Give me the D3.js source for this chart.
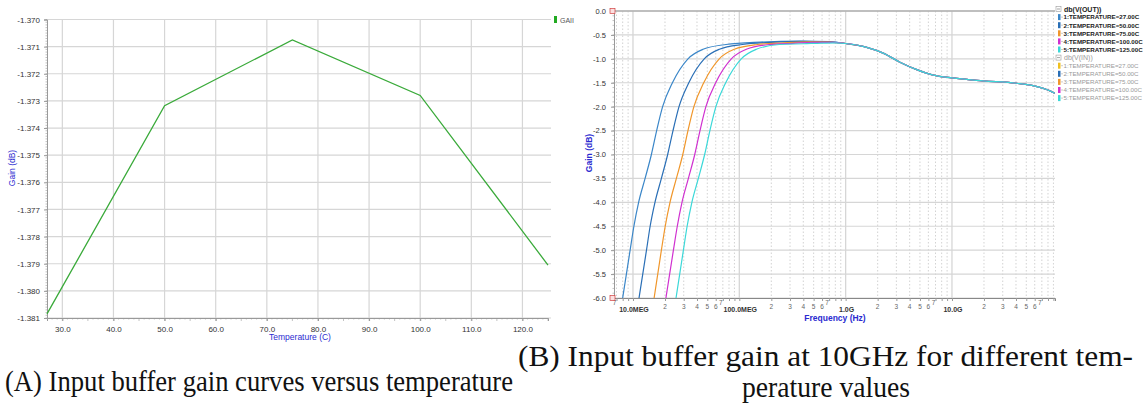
<!DOCTYPE html>
<html><head><meta charset="utf-8">
<script src="https://cdn.jsdelivr.net/npm/d3@7"></script>
<style>
html,body{margin:0;padding:0;background:#fff;}
svg{display:block;}
</style></head>
<body>
<svg id="c" width="1147" height="409"></svg>
<script>
// ---------------- DATA ----------------
// (A) gain vs temperature
const temps = [27, 50, 75, 100, 125];
const gainA = [-1.38085, -1.37318, -1.37075, -1.37280, -1.37905];
const xTicksA = [30, 40, 50, 60, 70, 80, 90, 100, 110, 120];
const yTicksA = [-1.370, -1.371, -1.372, -1.373, -1.374, -1.375, -1.376, -1.377, -1.378, -1.379, -1.380, -1.381];

// (B) gain vs frequency, one curve per temperature
const curveTemps = ["27.00C", "50.00C", "75.00C", "100.00C", "125.00C"];
const rollGain = [-6.0, -5.0, -4.5, -4.0, -3.5, -3.0, -2.5, -2.0, -1.5, -1.0, -0.8, -0.7];
const rollFreq27  = [8.0, 9.4, 10.2, 11.3, 13.0, 14.9, 16.7, 19.0, 23.5, 32.9, 45.6, 75];      // MHz
const rollFreq50  = [11.4, 13.4, 14.5, 16.1, 18.5, 21.2, 23.8, 27.1, 33.5, 46.8, 64.9, 107];
const rollFreq75  = [15.8, 18.5, 20.1, 22.3, 25.6, 29.4, 32.9, 37.4, 46.3, 64.8, 89.8, 148];
const rollFreq100 = [20.4, 24.0, 26.1, 28.9, 33.2, 38.1, 42.7, 48.5, 60.0, 84.1, 116.5, 192];
const rollFreq125 = [25.4, 29.8, 32.3, 35.8, 41.2, 47.2, 52.9, 60.2, 74.5, 104.3, 144.6, 238];
const plateauFreq27  = [157, 370, 700];   // MHz
const plateauFreq50  = [200, 400, 700];
const plateauFreq75  = [260, 450, 700];
const plateauFreq100 = [320, 500, 750];
const plateauFreq125 = [400, 600, 800];
const plateauGain27  = [-0.650, -0.630, -0.640];
const plateauGain50  = [-0.655, -0.635, -0.645];
const plateauGain75  = [-0.665, -0.645, -0.650];
const plateauGain100 = [-0.675, -0.655, -0.655];
const plateauGain125 = [-0.685, -0.670, -0.665];
const tailFreqGHz = [1.0, 1.58, 2.28, 3.24, 4.6, 6.68, 10, 19.6, 40.6, 57.8, 83.6, 93];
const tailGain    = [-0.68, -0.76, -0.885, -1.07, -1.22, -1.34, -1.40, -1.46, -1.51, -1.56, -1.67, -1.72];
const yTicksB = [0.0, -0.5, -1.0, -1.5, -2.0, -2.5, -3.0, -3.5, -4.0, -4.5, -5.0, -5.5, -6.0];
const majorFreqs = [1e7, 1e8, 1e9, 1e10];
const majorLabels = ["10.0MEG", "100.0MEG", "1.0G", "10.0G"];

const curveColors = ["#3a86c8", "#2a6fb6", "#f0962a", "#d030d0", "#3ad8d8"];
const legendInColors = ["#f0c020", "#2a6fb6", "#f0962a", "#d030d0", "#3ad8d8"];

// ---------------- DRAW ----------------
const svg = d3.select("#c");
const tickFont = "'Liberation Sans', Arial, sans-serif";
const gridCol = "#d6d6d6";
const axisCol = "#9a9a9a";
const blue = "#2b2bd0";

// ===== Chart A =====
{
  const x = d3.scaleLinear().domain([27, 125]).range([47, 548]);
  const y = d3.scaleLinear().domain([-1.381, -1.370]).range([318, 19.5]);
  const g = svg.append("g");
  g.selectAll(".hg").data(yTicksA).join("line")
    .attr("x1", x(27)).attr("x2", 551).attr("y1", d => y(d)).attr("y2", d => y(d))
    .attr("stroke", gridCol).attr("stroke-width", 1.2);
  g.selectAll(".vg").data(xTicksA).join("line")
    .attr("x1", d => x(d)).attr("x2", d => x(d)).attr("y1", y(-1.370)).attr("y2", y(-1.381))
    .attr("stroke", gridCol).attr("stroke-width", 1.2);
  const yAxis = d3.axisLeft(y).tickValues(yTicksA).tickSize(3)
    .tickFormat(d => d3.format(".3f")(d).replace("−", "-"));
  const ya = g.append("g").attr("transform", `translate(${x(27)},0)`).call(yAxis);
  ya.select(".domain").attr("stroke", axisCol);
  ya.selectAll(".tick line").attr("stroke", axisCol);
  ya.selectAll("text").attr("font-family", tickFont).attr("font-size", 8).attr("fill", "#333").attr("dx", -1);
  g.selectAll(".ym").data(d3.range(0, 111).map(i => -1.370 - i * 0.0001)).join("line")
    .attr("x1", x(27)).attr("x2", x(27) - 1.5).attr("y1", d => y(d)).attr("y2", d => y(d))
    .attr("stroke", axisCol).attr("stroke-width", 0.6);
  const xAxis = d3.axisBottom(x).tickValues(xTicksA).tickSize(3).tickFormat(d3.format(".1f"));
  const xa = g.append("g").attr("transform", `translate(0,${y(-1.381)})`).call(xAxis);
  xa.select(".domain").attr("stroke", axisCol);
  xa.selectAll(".tick line").attr("stroke", axisCol);
  xa.selectAll("text").attr("font-family", tickFont).attr("font-size", 8).attr("fill", "#333")
    .attr("y", 14).attr("dy", 0);
  g.selectAll(".xm").data(d3.range(28, 126)).join("line")
    .attr("x1", d => x(d)).attr("x2", d => x(d)).attr("y1", y(-1.381)).attr("y2", d => y(-1.381) + (d % 5 === 0 ? 3 : 1.5))
    .attr("stroke", axisCol).attr("stroke-width", 0.6);
  g.append("text").attr("x", 300).attr("y", 340).attr("text-anchor", "middle")
    .attr("font-family", tickFont).attr("font-size", 8.5).attr("fill", blue).text("Temperature (C)");
  g.append("text").attr("transform", "translate(15,168) rotate(-90)").attr("text-anchor", "middle")
    .attr("font-family", tickFont).attr("font-size", 8.5).attr("fill", blue).text("Gain (dB)");
  const line = d3.line().x((d, i) => x(temps[i])).y(d => y(d));
  g.append("path").datum(gainA).attr("d", line).attr("fill", "none")
    .attr("stroke", "#3aaa3a").attr("stroke-width", 1.3);
  g.append("rect").attr("x", 554).attr("y", 16).attr("width", 3).attr("height", 7).attr("fill", "#22aa22");
  g.append("text").attr("x", 560).attr("y", 22.5).attr("font-family", tickFont).attr("font-size", 7)
    .attr("fill", "#555").text("GAII");
}

// ===== Chart B =====
{
  const fmin = 6.63e6, fmax = 9.31e10;
  const x = d3.scaleLog().domain([fmin, fmax]).range([614, 1055]);
  const y = d3.scaleLinear().domain([-6, 0]).range([298, 11]);
  const g = svg.append("g");
  const minorF = [];
  for (let e = 6; e <= 10; e++) for (let m = 2; m <= 9; m++) {
    const f = m * Math.pow(10, e);
    if (f > fmin && f < fmax) minorF.push(f);
  }
  g.selectAll(".mg").data(minorF).join("line")
    .attr("x1", d => x(d)).attr("x2", d => x(d)).attr("y1", y(0)).attr("y2", y(-6))
    .attr("stroke", "#c8c8c8").attr("stroke-width", 0.8).attr("stroke-dasharray", "1.5,2");
  g.selectAll(".vg").data(majorFreqs).join("line")
    .attr("x1", d => x(d)).attr("x2", d => x(d)).attr("y1", y(0)).attr("y2", y(-6))
    .attr("stroke", gridCol).attr("stroke-width", 1.3);
  g.selectAll(".hg").data(yTicksB).join("line")
    .attr("x1", x(fmin)).attr("x2", x(fmax)).attr("y1", d => y(d)).attr("y2", d => y(d))
    .attr("stroke", gridCol).attr("stroke-width", 1.2);
  g.append("line").attr("x1", x(fmin)).attr("x2", x(fmax)).attr("y1", y(0)).attr("y2", y(0))
    .attr("stroke", "#b0b0b0").attr("stroke-width", 1.5);
  const yAxis = d3.axisLeft(y).tickValues(yTicksB).tickSize(3)
    .tickFormat(d => d3.format(".1f")(d).replace("−", "-"));
  const ya = g.append("g").attr("transform", `translate(${x(fmin)},0)`).call(yAxis);
  ya.select(".domain").attr("stroke", axisCol);
  ya.selectAll(".tick line").attr("stroke", axisCol);
  ya.selectAll("text").attr("font-family", tickFont).attr("font-size", 7.5).attr("fill", "#333").attr("dx", -2);
  g.selectAll(".ym").data(d3.range(0, 61).map(i => -i * 0.1)).join("line")
    .attr("x1", x(fmin)).attr("x2", x(fmin) - 1.5).attr("y1", d => y(d)).attr("y2", d => y(d))
    .attr("stroke", axisCol).attr("stroke-width", 0.6);
  const xAxis = d3.axisBottom(x).tickValues(majorFreqs.concat(minorF)).tickSize(3).tickFormat("");
  const xa = g.append("g").attr("transform", `translate(0,${y(-6)})`).call(xAxis);
  xa.select(".domain").attr("stroke", "#888");
  xa.selectAll(".tick line").attr("stroke", axisCol);
  g.selectAll(".mjl").data(majorFreqs).join("text")
    .attr("x", d => x(d) + 1).attr("y", 312).attr("text-anchor", "middle")
    .attr("font-family", tickFont).attr("font-size", 7).attr("font-weight", "bold").attr("fill", "#333")
    .text((d, i) => majorLabels[i]);
  const mant = d => Math.round(d / Math.pow(10, Math.floor(Math.log10(d) + 1e-9)));
  const minorLabelled = minorF.filter(f => mant(f) <= 7);
  g.selectAll(".mnl").data(minorLabelled).join("text")
    .attr("x", d => x(d) - (mant(d) === 7 ? 2 : 0)).attr("y", d => mant(d) === 7 ? 305 : 308.5).attr("text-anchor", "middle")
    .attr("font-family", tickFont).attr("font-size", 6.5).attr("fill", "#666")
    .text(d => mant(d));
  [0, -6].forEach(v => {
    g.append("rect").attr("x", x(fmin) - 4).attr("y", y(v) - 2.5).attr("width", 5).attr("height", 5)
      .attr("fill", "#fbe0e0").attr("stroke", "#d04040").attr("stroke-width", 0.7);
  });
  g.append("text").attr("x", 835).attr("y", 321).attr("text-anchor", "middle")
    .attr("font-family", tickFont).attr("font-size", 8.5).attr("font-weight", "bold").attr("fill", blue).text("Frequency (Hz)");
  g.append("text").attr("transform", "translate(592,153) rotate(-90)").attr("text-anchor", "middle")
    .attr("font-family", tickFont).attr("font-size", 8.5).attr("font-weight", "bold").attr("fill", blue).text("Gain (dB)");
  const rolls = [rollFreq27, rollFreq50, rollFreq75, rollFreq100, rollFreq125];
  const pFs = [plateauFreq27, plateauFreq50, plateauFreq75, plateauFreq100, plateauFreq125];
  const pGs = [plateauGain27, plateauGain50, plateauGain75, plateauGain100, plateauGain125];
  const series = rolls.map((rf, k) => {
    const pts = rf.map((f, i) => [f * 1e6, rollGain[i]]);
    pFs[k].forEach((f, i) => pts.push([f * 1e6, pGs[k][i]]));
    tailFreqGHz.forEach((f, i) => pts.push([f * 1e9, tailGain[i]]));
    return pts;
  });
  svg.append("defs").append("clipPath").attr("id", "clipB").append("rect")
    .attr("x", x(fmin)).attr("y", y(0)).attr("width", x(fmax) - x(fmin)).attr("height", y(-6) - y(0));
  const line = d3.line().x(d => x(d[0])).y(d => y(d[1])).curve(d3.curveMonotoneX);
  g.append("g").attr("clip-path", "url(#clipB)").selectAll("path").data(series).join("path")
    .attr("d", line).attr("fill", "none").attr("stroke", (d, i) => curveColors[i]).attr("stroke-width", 1.2);
  // legend
  const lg = g.append("g").attr("font-family", tickFont).attr("font-size", 6.2);
  const rowY = i => 9 + i * 8.1;
  const groups = [["db(V(OUT))", curveColors, "#222"], ["db(V(IN))", legendInColors, "#9a9a9a"]];
  const fitText = (sel) => {
    const avail = 1144 - (+sel.attr("x"));
    const w = sel.node().getComputedTextLength();
    if (w > avail) sel.attr("textLength", avail).attr("lengthAdjust", "spacingAndGlyphs");
  };
  groups.forEach((grp, gi) => {
    const base = gi * 6;
    lg.append("rect").attr("x", 1056).attr("y", rowY(base) - 2.5).attr("width", 5).attr("height", 5)
      .attr("fill", "#fff").attr("stroke", "#999").attr("stroke-width", 0.6);
    lg.append("line").attr("x1", 1057).attr("x2", 1060).attr("y1", rowY(base)).attr("y2", rowY(base)).attr("stroke", "#666").attr("stroke-width", 0.6);
    lg.append("text").attr("x", 1064).attr("y", rowY(base) + 2.5).attr("font-size", 7).attr("fill", grp[2]).attr("font-weight", gi === 0 ? "bold" : "normal").text(grp[0]);
    curveTemps.forEach((t, i) => {
      const yy = rowY(base + 1 + i);
      lg.append("rect").attr("x", 1058).attr("y", yy - 3).attr("width", 2.5).attr("height", 6).attr("fill", grp[1][i]);
      lg.append("line").attr("x1", 1061).attr("x2", 1063).attr("y1", yy).attr("y2", yy).attr("stroke", "#aaa").attr("stroke-width", 0.6);
      const tx = lg.append("text").attr("x", 1063.5).attr("y", yy + 2.3).attr("fill", grp[2]).attr("font-weight", gi === 0 ? "bold" : "normal")
        .text(`${i + 1}:TEMPERATURE=${t}`);
      fitText(tx);
    });
  });
}

// ===== Captions =====
{
  const serif = "'Liberation Serif', 'DejaVu Serif', serif";
  const cap = (x0, yb, text, len, anchor) => {
    svg.append("text").attr("x", x0).attr("y", yb).attr("font-family", serif).attr("font-size", 29)
      .attr("text-anchor", anchor || "start")
      .attr("fill", "#111").attr("textLength", len).attr("lengthAdjust", "spacingAndGlyphs").text(text);
  };
  cap(5, 391, "(A) Input buffer gain curves versus temperature", 508);
  cap(518, 366, "(B) Input buffer gain at 10GHz for different tem-", 615);
  cap(826, 397, "perature values", 168, "middle");
}
</script>
</body></html>
